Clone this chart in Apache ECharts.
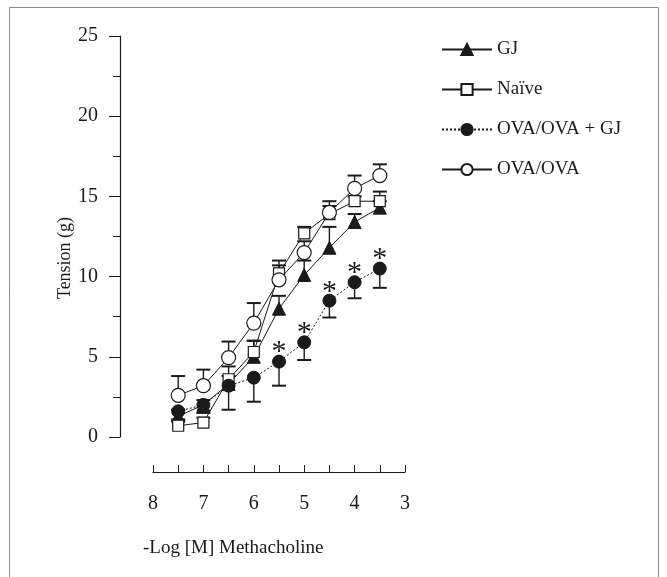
<!DOCTYPE html>
<html>
<head>
<meta charset="utf-8">
<script src="https://cdn.jsdelivr.net/npm/echarts@6/dist/echarts.min.js"></script>
<style>
  html, body { margin: 0; padding: 0; background: #fff; }
  #main { width: 667px; height: 577px; }
</style>
</head>
<body>
<div id="main"></div>
<script>
// -log [M] methacholine doses
var doses = [7.5, 7, 6.5, 6, 5.5, 5, 4.5, 4, 3.5];

// mean tension (g) per group
var gjMean     = [1.3, 2.0, 3.3, 5.0, 8.0, 10.1, 11.8, 13.4, 14.3];
var naiveMean  = [0.7, 0.9, 3.6, 5.3, 10.2, 12.7, 13.9, 14.7, 14.7];
var ovaGjMean  = [1.6, 2.0, 3.2, 3.7, 4.7, 5.9, 8.5, 9.65, 10.5];
var ovaMean    = [2.6, 3.2, 4.95, 7.1, 9.8, 11.5, 14.0, 15.5, 16.3];

// error bar length (SEM), up for the solid groups, down for OVA/OVA + GJ
var gjErr    = [0.4, 0.3, 0.5, 1.0, 0.8, 0.9, 1.3, 0.5, 0.4];
var naiveErr = [0.3, 0.3, 0.8, 0.7, 0.5, 0.4, 0.5, 0.3, 0.6];
var ovaGjErr = [0.5, 0.5, 1.5, 1.5, 1.5, 1.1, 1.05, 1.0, 1.2];
var ovaErr   = [1.2, 1.0, 1.0, 1.25, 1.2, 0.7, 0.7, 0.8, 0.7];

// significance marks (*) on OVA/OVA + GJ
var sig = [0, 0, 0, 0, 1, 1, 1, 1, 1];

var yTicks = [0, 5, 10, 15, 20, 25];
var xTicks = [8, 7, 6, 5, 4, 3];

var FONT = 'Liberation Serif';
var INK = '#1a1a1a';

function pts(mean) {
    return doses.map(function (d, i) { return [d, mean[i]]; });
}
function bars(mean, err, dir) {
    return doses.map(function (d, i) { return [d, mean[i], mean[i] + dir * err[i]]; });
}

function errRender(params, api) {
    var x = api.value(0);
    var p1 = api.coord([x, api.value(1)]);
    var p2 = api.coord([x, api.value(2)]);
    return {
        type: 'group',
        children: [
            { type: 'line', shape: { x1: p1[0], y1: p1[1], x2: p2[0], y2: p2[1] },
              style: { stroke: INK, lineWidth: 1.4 } },
            { type: 'line', shape: { x1: p2[0] - 7, y1: p2[1], x2: p2[0] + 7, y2: p2[1] },
              style: { stroke: INK, lineWidth: 2 } }
        ]
    };
}

function errSeries(name, mean, err, dir) {
    return {
        name: name,
        type: 'custom',
        renderItem: errRender,
        encode: { x: 0, y: [1, 2] },
        data: bars(mean, err, dir),
        z: 1,
        silent: true
    };
}

var myChart = echarts.init(document.getElementById('main'));

var option = {
    backgroundColor: '#fff',
    animation: false,
    textStyle: { fontFamily: FONT, color: INK },
    graphic: [
        { type: 'rect', shape: { x: 9.5, y: 7.5, width: 649, height: 600 },
          style: { fill: 'none', stroke: '#8a8a8a', lineWidth: 1 }, z: -1 },
        { type: 'text', x: 65, y: 258, rotation: Math.PI / 2,
          style: { text: 'Tension (g)', fontFamily: FONT, fontSize: 18, fill: INK,
                   align: 'center', verticalAlign: 'middle' } },
        { type: 'text', x: 143, y: 548,
          style: { text: '-Log [M] Methacholine', fontFamily: FONT, fontSize: 19, fill: INK,
                   align: 'left', verticalAlign: 'middle' } }
    ],
    legend: {
        data: ['GJ', 'Naïve', 'OVA/OVA + GJ', 'OVA/OVA'],
        orient: 'vertical',
        left: 436,
        top: 35,
        itemWidth: 50,
        itemHeight: 14,
        itemGap: 21,
        textStyle: { fontFamily: FONT, fontSize: 19, color: INK }
    },
    grid: { left: 153, right: 262, top: 36, bottom: 140 },
    xAxis: {
        type: 'value',
        min: 3,
        max: 8,
        interval: 1,
        inverse: true,
        offset: 35,
        axisLine: { onZero: false, lineStyle: { color: INK, width: 1.2 } },
        axisTick: { inside: true, length: 7, lineStyle: { color: INK } },
        minorTick: { show: true, splitNumber: 2, length: 7, lineStyle: { color: INK } },
        axisLabel: { margin: 22, fontFamily: FONT, fontSize: 20, color: INK,
                     formatter: function (v) { return xTicks.indexOf(v) >= 0 ? String(v) : ''; } },
        splitLine: { show: false }
    },
    yAxis: {
        type: 'value',
        min: 0,
        max: 25,
        interval: 5,
        offset: 33,
        axisLine: { show: true, onZero: false, lineStyle: { color: INK, width: 1.2 } },
        axisTick: { show: true, length: 11, lineStyle: { color: INK } },
        minorTick: { show: true, splitNumber: 2, length: 7, lineStyle: { color: INK } },
        axisLabel: { margin: 22, fontFamily: FONT, fontSize: 20, color: INK,
                     formatter: function (v) { return yTicks.indexOf(v) >= 0 ? String(v) : ''; } },
        splitLine: { show: false }
    },
    series: [
        errSeries('GJ err', gjMean, gjErr, 1),
        errSeries('Naïve err', naiveMean, naiveErr, 1),
        errSeries('OVA/OVA + GJ err', ovaGjMean, ovaGjErr, -1),
        errSeries('OVA/OVA err', ovaMean, ovaErr, 1),
        {
            name: 'GJ', type: 'line', data: pts(gjMean), z: 3,
            symbol: 'triangle', symbolSize: 13, showAllSymbol: true,
            lineStyle: { color: INK, width: 1 },
            itemStyle: { color: INK, borderColor: INK, borderWidth: 1 }
        },
        {
            name: 'Naïve', type: 'line', data: pts(naiveMean), z: 4,
            symbol: 'rect', symbolSize: 11,
            lineStyle: { color: INK, width: 1 },
            itemStyle: { color: '#fff', borderColor: INK, borderWidth: 1.2 }
        },
        {
            name: 'OVA/OVA + GJ', type: 'line', data: pts(ovaGjMean), z: 5,
            symbol: 'circle', symbolSize: 13,
            lineStyle: { color: INK, width: 1, type: [2, 2] },
            itemStyle: { color: INK, borderColor: INK, borderWidth: 1 },
            label: {
                show: true, position: 'inside', offset: [0, -9],
                fontFamily: FONT, fontSize: 30, color: INK,
                formatter: function (p) { return sig[p.dataIndex] ? '*' : ''; }
            }
        },
        {
            name: 'OVA/OVA', type: 'line', data: pts(ovaMean), z: 6,
            symbol: 'circle', symbolSize: 14,
            lineStyle: { color: INK, width: 1 },
            itemStyle: { color: '#fff', borderColor: INK, borderWidth: 1.2 }
        }
    ]
};

myChart.setOption(option);
</script>
</body>
</html>
